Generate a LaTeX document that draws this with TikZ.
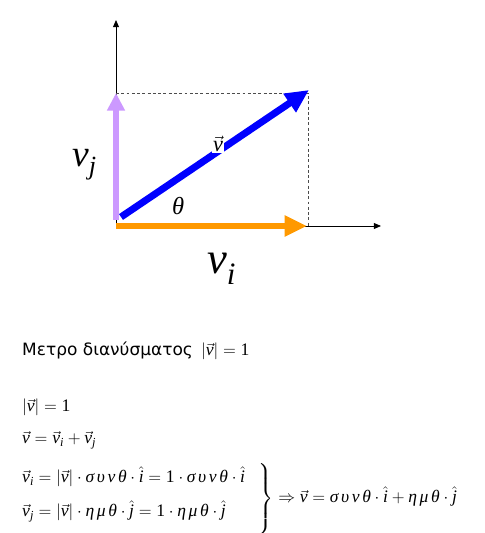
\documentclass[tikz,border=0pt]{standalone}
\usepackage{amsmath}
\usepackage{fontspec}
\newfontfamily\greekfont{DejaVu Sans}
\newfontfamily\tnr{Liberation Serif}
\newcommand{\tx}[1]{\text{\tnr\itshape #1}}
\newcommand{\gk}[1]{\text{\tnr\itshape\addfontfeature{LetterSpace=15}#1}}
\newcommand{\tnum}[1]{\text{\tnr #1}}
\newcommand{\vv}{\vec{\tx{v}}}
\usetikzlibrary{arrows.meta,positioning}
\definecolor{vorange}{RGB}{255,153,0}
\definecolor{vlilac}{RGB}{204,153,255}

\begin{document}
\begin{tikzpicture}[x=0.03cm,y=0.03cm,
  axis/.style={line width=0.7pt,-{Triangle[length=6pt,width=5pt]}},
  guide/.style={black!70,line width=0.6pt,dash pattern=on 2.5pt off 2pt},
  vecv/.style={blue,line width=6pt,-{Triangle[length=20pt,width=18pt]}},
  veci/.style={vorange,line width=5.5pt,-{Triangle[length=19pt,width=17pt]}},
  vecj/.style={vlilac,line width=5pt,-{Triangle[length=15pt,width=14.5pt]}},
  eqline/.style={anchor=base west,inner sep=0pt,font=\fontsize{15}{18}\selectfont}]
\useasboundingbox (0,0) rectangle (485,533);
% axes and the components
\coordinate (o) at (116,307);
\coordinate (ytop) at (116,513);
\coordinate (xend) at (381,307);
\coordinate (jfoot) at (116,313);
\coordinate (jtip) at (116,440);
\coordinate (itip) at (307,307);
\coordinate (vfoot) at (121,316);
\coordinate (vtip) at (309,443);
\coordinate (corner) at (308,440);
\coordinate (cfoot) at (308,307);
\draw[axis] (o)--(ytop);
\draw[axis] (o)--(xend);
\draw[guide] (jtip)--(corner)--(cfoot);
\draw[vecj] (jfoot)--(jtip);
\draw[veci] (o)--(itip);
\draw[vecv] (vfoot)--(vtip);
\node[fill=white,inner sep=1pt,font=\fontsize{19}{22}\selectfont] (vlab) at (218,389) {$\vv$};
\node[anchor=base west,inner sep=0pt,font=\fontsize{21}{24}\selectfont] (th) at (172,318) {$\tx{θ}$};
\node[anchor=base west,inner sep=0pt,font=\fontsize{32}{36}\selectfont] (vj) at (72,366) {$\tx{v}_{\tx{j}}$};
\node[anchor=base west,inner sep=0pt,font=\fontsize{38}{42}\selectfont] (vi) at (207,259) {$\tx{v}_{\tx{i}}$};
% the text below
\node[anchor=base west,inner sep=0pt,font=\fontsize{14.5}{18}\selectfont\greekfont] (title) at (22,177) {Μετρο διανύσματος};
\node[eqline] (norm0) at (201,177) {$\left|\vv\right|=\tnum{1}$};
\node[eqline] (norm) at (22,121) {$\left|\vv\right|=\tnum{1}$};
\node[eqline] (sum) at (22,89) {$\vv=\vv_{\tx{i}}+\vv_{\tx{j}}$};
\node[eqline] (compi) at (22,50) {$\vv_{\tx{i}}=\left|\vv\right|\cdot\gk{συνθ}\cdot\hat{\tx{i}}=\tnum{1}\cdot\gk{συνθ}\cdot\hat{\tx{i}}$};
\node[eqline] (compj) at (22,16) {$\vv_{\tx{j}}=\left|\vv\right|\cdot\gk{ημθ}\cdot\hat{\tx{j}}=\tnum{1}\cdot\gk{ημθ}\cdot\hat{\tx{j}}$};
\node[eqline] (res) at (257,30) {$\left.\rule[-27pt]{0pt}{57pt}\right\}\Rightarrow\vv=\gk{συνθ}\cdot\hat{\tx{i}}+\gk{ημθ}\cdot\hat{\tx{j}}$};
\end{tikzpicture}
\end{document}
